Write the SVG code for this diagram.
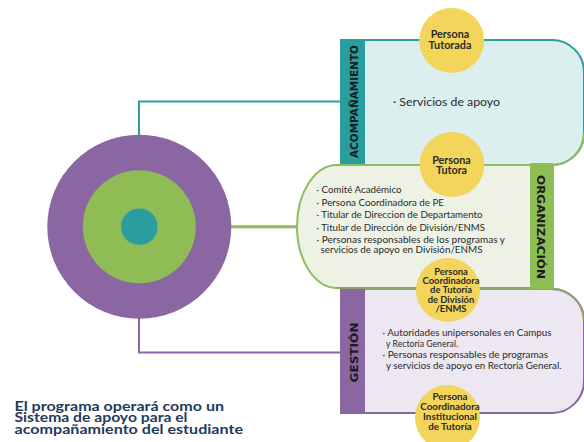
<svg xmlns="http://www.w3.org/2000/svg" width="584" height="442" viewBox="0 0 584 442">
<style>
.sl{font-family:"DejaVu Sans",sans-serif;font-weight:bold;font-size:11px;fill:#1b1b1b}
.yc{fill:#f3d55b}
.yt{font-family:"Lato","Noto Sans",sans-serif;font-weight:bold;fill:#2a2a2a;text-anchor:middle}
.li{font-family:"Lato","Noto Sans",sans-serif;fill:#2b2b2b}
.ft{font-family:"Lato","Noto Sans",sans-serif;font-weight:bold;font-size:13px;fill:#1f3a5c}
</style>
<rect width="584" height="442" fill="#ffffff"/>
<g id="connectors" fill="none">
  <polyline points="139,210 139,101.5 343,101.5" stroke="#2a9d9f" stroke-width="2"/>
  <polyline points="139,316 139,352.5 343,352.5" stroke="#8a66a2" stroke-width="2"/>
  <line x1="194" y1="226.7" x2="298" y2="226.7" stroke="#8fbc55" stroke-width="3"/>
</g>
<g id="center">
  <circle cx="139.3" cy="226.7" r="92" fill="#8a66a2"/>
  <circle cx="139.3" cy="226.7" r="56.5" fill="#8fbc55"/>
  <circle cx="139.3" cy="226.7" r="18.3" fill="#2a9d9f"/>
</g>
<g id="gestion">
  <path d="M341,289 H552 A32,32 0 0 1 584,321 V381 A32,32 0 0 1 552,413 H341 Z" fill="#ece7f0" stroke="#8a66a2" stroke-width="2"/>
  <path d="M365,289 H552 A32,32 0 0 1 584,321" fill="none" stroke="#8da36a" stroke-width="2"/>
  <rect x="341" y="288" width="24" height="126" fill="#8a66a2"/>
  <text class="sl" transform="translate(357.5,352.5) rotate(-90)" text-anchor="middle" textLength="60" lengthAdjust="spacingAndGlyphs">GESTIÓN</text>
  <g class="li" font-size="8.6">
    <text x="382.5" y="336" textLength="169" lengthAdjust="spacingAndGlyphs">· Autoridades unipersonales en Campus</text>
    <text x="386" y="346.5" textLength="72" lengthAdjust="spacingAndGlyphs">y Rectoría General.</text>
    <text x="382.5" y="358" textLength="165.5" lengthAdjust="spacingAndGlyphs">· Personas responsables de programas</text>
    <text x="386" y="368.5" textLength="175.5" lengthAdjust="spacingAndGlyphs">y servicios de apoyo en Rectoría General.</text>
  </g>
</g>
<g id="acompanamiento">
  <path d="M341,40 H552 A32,32 0 0 1 584,72 V133 A32,32 0 0 1 552,165 H341 Z" fill="#dcefef" stroke="#2a9d9f" stroke-width="2"/>
  <path d="M584,133 A32,32 0 0 1 552,165" fill="none" stroke="#8fbc5e" stroke-width="2"/>
  <rect x="341" y="39" width="24" height="125" fill="#2a9d9f"/>
  <text class="sl" transform="translate(357.5,101.5) rotate(-90)" text-anchor="middle" textLength="113" lengthAdjust="spacingAndGlyphs">ACOMPAÑAMIENTO</text>
  <text class="li" font-size="11" x="393" y="106" textLength="107" lengthAdjust="spacingAndGlyphs">· Servicios de apoyo</text>
</g>
<g id="organizacion">
  <path d="M337,165 H553 V288 H337 A40,61.5 0 0 1 337,165 Z" fill="#edf2e4" stroke="#8fbc5e" stroke-width="2"/>
  <path d="M337,288 H553" fill="none" stroke="#8da36a" stroke-width="2"/>
  <rect x="530" y="163" width="23" height="126" fill="#8dbe55"/>
  <text class="sl" transform="translate(537,227) rotate(90)" text-anchor="middle" textLength="104" lengthAdjust="spacingAndGlyphs">ORGANIZACIÓN</text>
  <g class="li" font-size="9.2">
    <text x="316.5" y="193" textLength="85" lengthAdjust="spacingAndGlyphs">· Comité Académico</text>
    <text x="316.5" y="205.5" textLength="127.5" lengthAdjust="spacingAndGlyphs">· Persona Coordinadora de PE</text>
    <text x="316.5" y="218" textLength="166" lengthAdjust="spacingAndGlyphs">· Titular de Direccion de Departamento</text>
    <text x="316.5" y="230.5" textLength="168.5" lengthAdjust="spacingAndGlyphs">· Titular de Dirección de División/ENMS</text>
    <text x="316.5" y="243" textLength="188.5" lengthAdjust="spacingAndGlyphs">· Personas responsables de los programas y</text>
    <text x="320.5" y="252.5" textLength="162" lengthAdjust="spacingAndGlyphs">servicios de apoyo en División/ENMS</text>
  </g>
</g>
<g id="persona-tutorada">
  <circle class="yc" cx="451.7" cy="40.5" r="32.5"/>
  <text class="yt" font-size="10.8"><tspan x="450" y="38.3">Persona</tspan><tspan x="450" y="48.6">Tutorada</tspan></text>
</g>
<g id="persona-tutora">
  <circle class="yc" cx="452" cy="164.5" r="32.5"/>
  <text class="yt" font-size="10.8"><tspan x="451.5" y="163.5">Persona</tspan><tspan x="451.5" y="174">Tutora</tspan></text>
</g>
<g id="persona-coord-division">
  <circle class="yc" cx="448" cy="290" r="32"/>
  <text class="yt" font-size="9.4"><tspan x="451" y="275">Persona</tspan><tspan x="451" y="284.2">Coordinadora</tspan><tspan x="451" y="293.4">de Tutoría</tspan><tspan x="451" y="302.6">de División</tspan><tspan x="451" y="311.8">/ENMS</tspan></text>
</g>
<g id="persona-coord-institucional">
  <circle class="yc" cx="447.5" cy="417.5" r="32.5"/>
  <text class="yt" font-size="9.8"><tspan x="450" y="399.5">Persona</tspan><tspan x="450" y="409.8">Coordinadora</tspan><tspan x="450" y="420">Institucional</tspan><tspan x="450" y="430.2">de Tutoría</tspan></text>
</g>
<g id="caption" class="ft">
  <text x="14.5" y="410.5" textLength="209.5" lengthAdjust="spacingAndGlyphs">El programa operará como un</text>
  <text x="14.5" y="422" textLength="173" lengthAdjust="spacingAndGlyphs">Sistema de  apoyo para el</text>
  <text x="14.5" y="433.5" textLength="228.5" lengthAdjust="spacingAndGlyphs">acompañamiento del estudiante</text>
</g>
</svg>
